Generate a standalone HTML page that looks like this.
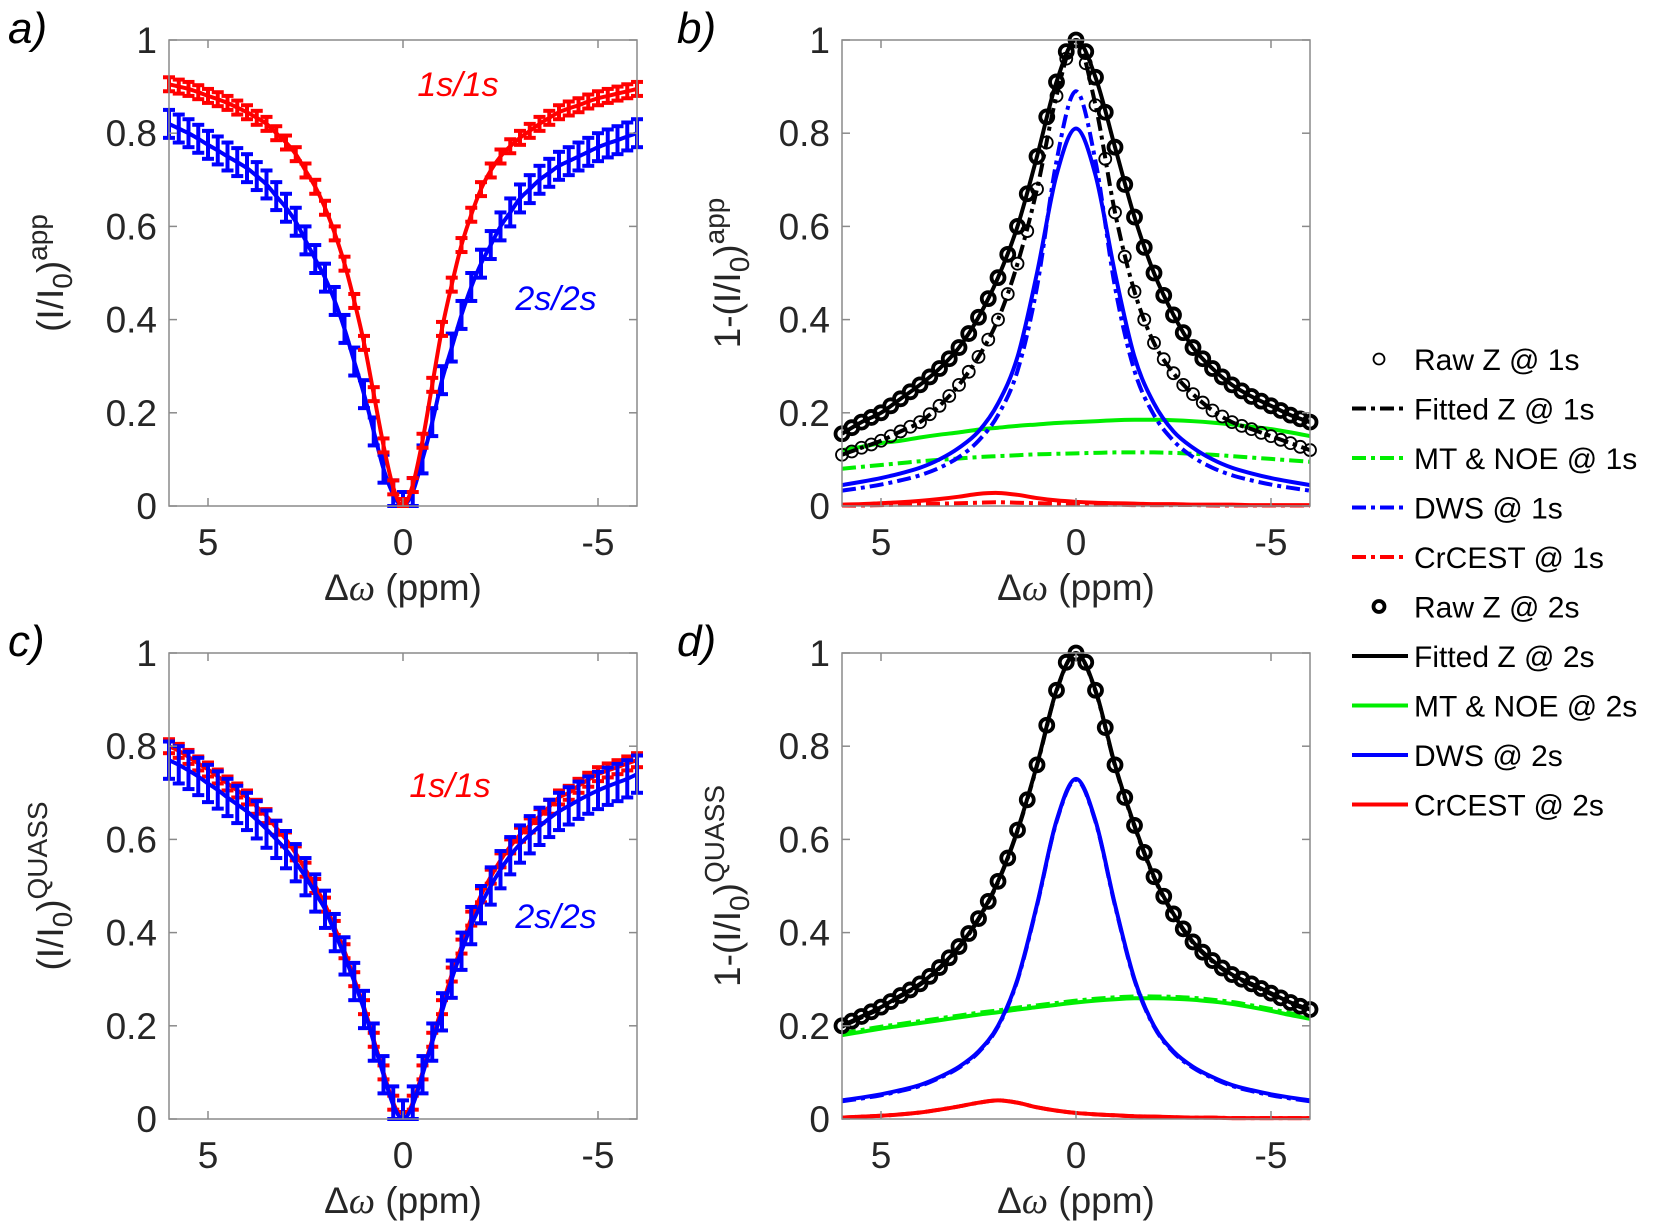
<!DOCTYPE html>
<html><head><meta charset="utf-8">
<style>
html,body{margin:0;padding:0;background:#fff;}
svg{display:block;font-family:"Liberation Sans",Arial,sans-serif;}
</style></head>
<body>
<svg id="fig" width="1654" height="1223" viewBox="0 0 1654 1223" xmlns="http://www.w3.org/2000/svg"></svg>
<script>
// ---------- data ----------
const offsetsFine = [6,5.75,5.5,5.25,5,4.75,4.5,4.25,4,3.75,3.5,3.25,3,2.75,2.5,2.25,2,1.75,1.5,1.25,1,0.75,0.5,0.25,0,-0.25,-0.5,-0.75,-1,-1.25,-1.5,-1.75,-2,-2.25,-2.5,-2.75,-3,-3.25,-3.5,-3.75,-4,-4.25,-4.5,-4.75,-5,-5.25,-5.5,-5.75,-6];
const offsets = [6,5.5,5,4.5,4,3.5,3,2.5,2,1.5,1,0.5,0,-0.5,-1,-1.5,-2,-2.5,-3,-3.5,-4,-4.5,-5,-5.5,-6];
const xTicks = [5,0,-5];
const xTickLabels = ["5","0","-5"];
const yTicks = [0,0.2,0.4,0.6,0.8,1];
const yTickLabels = ["0","0.2","0.4","0.6","0.8","1"];

// panel a
const aRed = [0.905,0.90,0.895,0.888,0.88,0.873,0.865,0.855,0.845,0.833,0.82,0.80,0.78,0.755,0.72,0.685,0.64,0.585,0.52,0.44,0.35,0.24,0.13,0.04,0.0,0.045,0.14,0.26,0.38,0.475,0.56,0.625,0.68,0.72,0.75,0.772,0.79,0.805,0.82,0.833,0.845,0.853,0.86,0.868,0.875,0.88,0.885,0.89,0.895];
const aRedErr = 0.015;
const aBlue = [0.82,0.81,0.80,0.788,0.775,0.763,0.75,0.738,0.725,0.708,0.69,0.665,0.64,0.61,0.57,0.53,0.49,0.44,0.38,0.31,0.24,0.16,0.08,0.025,0.0,0.03,0.10,0.18,0.27,0.34,0.41,0.47,0.52,0.56,0.60,0.63,0.66,0.68,0.70,0.715,0.73,0.74,0.75,0.76,0.77,0.778,0.785,0.793,0.80];
const aBlueErr = 0.03;
// panel c
const cRed = [0.80,0.79,0.777,0.763,0.75,0.735,0.72,0.705,0.69,0.67,0.65,0.625,0.60,0.57,0.535,0.50,0.46,0.41,0.36,0.30,0.24,0.17,0.10,0.035,0.0,0.035,0.10,0.17,0.24,0.31,0.37,0.43,0.48,0.52,0.555,0.585,0.61,0.63,0.65,0.67,0.69,0.70,0.715,0.728,0.74,0.748,0.755,0.763,0.77];
const cRedErr = 0.015;
const cBlue = [0.77,0.76,0.748,0.735,0.72,0.706,0.69,0.675,0.66,0.642,0.622,0.60,0.578,0.55,0.52,0.485,0.45,0.40,0.35,0.295,0.235,0.165,0.095,0.03,0.0,0.03,0.095,0.165,0.23,0.30,0.36,0.415,0.46,0.50,0.535,0.565,0.59,0.61,0.628,0.645,0.66,0.672,0.684,0.695,0.705,0.714,0.722,0.73,0.74];
const cBlueErr = 0.04;

// panel b
const bRaw1 = [0.11,0.117,0.125,0.132,0.14,0.15,0.16,0.17,0.18,0.197,0.215,0.236,0.26,0.288,0.32,0.357,0.40,0.455,0.52,0.59,0.68,0.78,0.88,0.96,1.0,0.95,0.86,0.745,0.63,0.535,0.46,0.40,0.35,0.315,0.285,0.26,0.24,0.222,0.205,0.192,0.18,0.172,0.165,0.157,0.15,0.142,0.135,0.127,0.12];
const bFit1 = [0.11,0.125,0.14,0.16,0.18,0.215,0.26,0.32,0.40,0.52,0.68,0.88,1.0,0.86,0.63,0.46,0.35,0.285,0.24,0.205,0.18,0.165,0.15,0.135,0.12];
const bRaw2 = [0.155,0.168,0.18,0.19,0.20,0.215,0.23,0.245,0.26,0.277,0.295,0.316,0.34,0.37,0.405,0.445,0.49,0.54,0.60,0.67,0.75,0.835,0.91,0.975,1.0,0.975,0.92,0.845,0.77,0.69,0.62,0.555,0.50,0.452,0.41,0.372,0.34,0.316,0.295,0.277,0.26,0.247,0.235,0.225,0.215,0.205,0.195,0.187,0.18];
const bFit2 = [0.155,0.18,0.20,0.23,0.26,0.295,0.34,0.405,0.49,0.60,0.75,0.91,1.0,0.92,0.77,0.62,0.50,0.41,0.34,0.295,0.26,0.235,0.215,0.195,0.18];
const bMT2 = [0.12,0.127,0.135,0.14,0.147,0.153,0.158,0.164,0.168,0.172,0.175,0.178,0.18,0.182,0.184,0.185,0.185,0.184,0.182,0.179,0.175,0.17,0.165,0.158,0.15];
const bMT1 = [0.08,0.084,0.088,0.092,0.096,0.099,0.102,0.105,0.107,0.109,0.111,0.112,0.113,0.114,0.115,0.115,0.115,0.114,0.112,0.11,0.107,0.104,0.101,0.098,0.095];
const bDWS2 = [0.045,0.052,0.06,0.07,0.082,0.10,0.125,0.16,0.22,0.32,0.50,0.71,0.81,0.71,0.50,0.32,0.22,0.16,0.125,0.10,0.082,0.07,0.06,0.052,0.045];
const bDWS1 = [0.033,0.039,0.046,0.055,0.066,0.082,0.105,0.14,0.195,0.29,0.47,0.74,0.89,0.74,0.47,0.29,0.195,0.14,0.105,0.082,0.066,0.055,0.046,0.039,0.033];
const bCr2 = [0.003,0.004,0.006,0.008,0.011,0.015,0.02,0.026,0.028,0.024,0.017,0.012,0.009,0.007,0.006,0.005,0.004,0.004,0.003,0.003,0.003,0.002,0.002,0.002,0.002];
const bCr1 = [0.001,0.001,0.002,0.003,0.004,0.005,0.006,0.007,0.008,0.007,0.006,0.005,0.004,0.003,0.003,0.002,0.002,0.002,0.002,0.001,0.001,0.001,0.001,0.001,0.001];

// panel d
const dRaw2 = [0.20,0.21,0.22,0.23,0.24,0.252,0.265,0.277,0.29,0.306,0.325,0.346,0.37,0.398,0.43,0.467,0.51,0.56,0.62,0.685,0.76,0.845,0.92,0.98,1.0,0.98,0.92,0.84,0.76,0.69,0.63,0.572,0.52,0.478,0.44,0.408,0.38,0.358,0.34,0.324,0.31,0.30,0.29,0.28,0.27,0.26,0.25,0.242,0.235];
const dFit2 = [0.20,0.22,0.24,0.265,0.29,0.325,0.37,0.43,0.51,0.62,0.76,0.92,1.0,0.92,0.76,0.63,0.52,0.44,0.38,0.34,0.31,0.29,0.27,0.25,0.235];
const dFit1 = [0.198,0.218,0.238,0.263,0.288,0.323,0.368,0.428,0.508,0.618,0.758,0.918,1.0,0.918,0.758,0.628,0.518,0.438,0.378,0.338,0.308,0.288,0.268,0.248,0.233];
const dMT2 = [0.18,0.187,0.194,0.2,0.206,0.212,0.218,0.224,0.229,0.235,0.24,0.245,0.25,0.254,0.257,0.259,0.259,0.258,0.256,0.252,0.247,0.24,0.232,0.223,0.215];
const dMT1 = [0.184,0.191,0.198,0.204,0.21,0.216,0.222,0.228,0.233,0.239,0.244,0.249,0.254,0.258,0.261,0.263,0.263,0.262,0.26,0.256,0.251,0.244,0.236,0.227,0.219];
const dDWS2 = [0.04,0.046,0.053,0.062,0.073,0.09,0.112,0.145,0.20,0.30,0.46,0.64,0.73,0.64,0.46,0.30,0.20,0.145,0.112,0.09,0.073,0.062,0.053,0.046,0.04];
const dDWS1 = [0.038,0.044,0.051,0.06,0.071,0.088,0.11,0.143,0.198,0.298,0.458,0.638,0.728,0.638,0.458,0.298,0.198,0.143,0.11,0.088,0.071,0.06,0.051,0.044,0.038];
const dCr2 = [0.003,0.005,0.007,0.01,0.014,0.02,0.027,0.035,0.04,0.035,0.025,0.018,0.013,0.01,0.008,0.006,0.005,0.004,0.003,0.003,0.002,0.002,0.002,0.002,0.002];
const dCr1 = [0.003,0.005,0.007,0.01,0.014,0.02,0.027,0.035,0.04,0.035,0.025,0.018,0.013,0.01,0.008,0.006,0.005,0.004,0.003,0.003,0.002,0.002,0.002,0.002,0.002];

// ---------- helpers ----------
const NS = "http://www.w3.org/2000/svg";
const svg = document.getElementById('fig');
function mk(tag, attrs, parent){
  const e = document.createElementNS(NS, tag);
  for (const k in attrs) e.setAttribute(k, attrs[k]);
  (parent||svg).appendChild(e);
  return e;
}
function makeAxes(x0, x1, y0, y1){
  return {
    x: v => x0 + (6 - v) / 12 * (x1 - x0),
    y: v => y1 - v * (y1 - y0),
    x0, x1, y0, y1
  };
}
function smoothPath(xs, ys){
  let d = `M${xs[0].toFixed(2)},${ys[0].toFixed(2)}`;
  for (let i = 0; i < xs.length - 1; i++){
    const p0x = xs[Math.max(i-1,0)], p0y = ys[Math.max(i-1,0)];
    const p3x = xs[Math.min(i+2,xs.length-1)], p3y = ys[Math.min(i+2,xs.length-1)];
    const c1x = xs[i] + (xs[i+1]-p0x)/6, c1y = ys[i] + (ys[i+1]-p0y)/6;
    const c2x = xs[i+1] - (p3x-xs[i])/6, c2y = ys[i+1] - (p3y-ys[i])/6;
    d += ` C${c1x.toFixed(2)},${c1y.toFixed(2)} ${c2x.toFixed(2)},${c2y.toFixed(2)} ${xs[i+1].toFixed(2)},${ys[i+1].toFixed(2)}`;
  }
  return d;
}
function drawFrame(ax, g, yLabelMain, ySup, yLabelPrefix, name){
  const {x0,x1,y0,y1} = ax;
  const fr = mk('rect',{x:x0,y:y0,width:x1-x0,height:y1-y0,fill:'none',stroke:'#8a8a8a','stroke-width':1.5},g);
  
  
  xTicks.forEach((t,i)=>{
    const X = ax.x(t);
    mk('line',{x1:X,y1:y1,x2:X,y2:y1-8,stroke:'#8a8a8a','stroke-width':1.5},g);
    mk('line',{x1:X,y1:y0,x2:X,y2:y0+8,stroke:'#8a8a8a','stroke-width':1.5},g);
    const tl = mk('text',{x:X,y:y1+49,'font-size':37,'text-anchor':'middle',fill:'#262626'},g);
    tl.textContent = xTickLabels[i];
    
    
  });
  yTicks.forEach((t,i)=>{
    const Y = ax.y(t);
    mk('line',{x1:x0,y1:Y,x2:x0+8,y2:Y,stroke:'#8a8a8a','stroke-width':1.5},g);
    mk('line',{x1:x1,y1:Y,x2:x1-8,y2:Y,stroke:'#8a8a8a','stroke-width':1.5},g);
    const tl = mk('text',{x:x0-12,y:Y+13,'font-size':37,'text-anchor':'end',fill:'#262626'},g);
    tl.textContent = yTickLabels[i];
    
    
  });
  const xl = mk('text',{x:(x0+x1)/2,y:y1+94,'font-size':37,'text-anchor':'middle',fill:'#262626'},g);
  xl.innerHTML = 'Δ<tspan font-family="Liberation Serif" font-style="italic">ω</tspan> (ppm)';
  
  
  const cx = x0 - (yLabelPrefix ? 102 : 106);
  const cy = (y0+y1)/2;
  const yl = mk('text',{x:0,y:0,'font-size':37,'text-anchor':'middle',fill:'#262626',transform:`translate(${cx},${cy}) rotate(-90)`},g);
  yl.innerHTML = `${yLabelPrefix}(I/I<tspan font-size="28" dy="9">0</tspan><tspan dy="-9">)</tspan><tspan font-size="28" dy="-16">${ySup}</tspan>`;
  
  
}
function drawLine(ax, g, vals, color, dash, width, name){
  const xs = offsets.map(ax.x), ys = vals.map(ax.y);
  const p = mk('path',{d:smoothPath(xs,ys),fill:'none',stroke:color,'stroke-width':width,'stroke-dasharray':dash||'none','stroke-linejoin':'round'},g);
  
  
}
function drawMarkers(ax, g, vals, r, sw, name){
  const gg = mk('g',{},g);
  
  
  vals.forEach((v,i)=>{
    mk('circle',{cx:ax.x(offsetsFine[i]),cy:ax.y(v),r:r,fill:'none',stroke:'#000','stroke-width':sw},gg);
  });
}
function drawErrSeries(ax, g, vals, err, color, name){
  const gg = mk('g',{},g);
  
  
  vals.forEach((v,i)=>{
    const X = ax.x(offsetsFine[i]);
    const yt = ax.y(v+err), yb = ax.y(Math.max(v-err,0));
    mk('line',{x1:X,y1:yt,x2:X,y2:yb,stroke:color,'stroke-width':4},gg);
    mk('line',{x1:X-6,y1:yt,x2:X+6,y2:yt,stroke:color,'stroke-width':4},gg);
    mk('line',{x1:X-6,y1:yb,x2:X+6,y2:yb,stroke:color,'stroke-width':4},gg);
  });
  const xs = offsetsFine.map(ax.x), ys = vals.map(ax.y);
  mk('path',{d:smoothPath(xs,ys),fill:'none',stroke:color,'stroke-width':4},gg);
}
function panelLetter(x,y,t,name){
  const e = mk('text',{x:x,y:y,'font-size':44,'font-style':'italic',fill:'#000'});
  e.textContent = t;
  
  
}
function note(x,y,t,color,name){
  const e = mk('text',{x:x,y:y,'font-size':34,'font-style':'italic','text-anchor':'middle',fill:color});
  e.textContent = t;
  
  
}

const RED='#ff0000', BLUE='#0000ff', GREEN='#00ee00';
const DASHDOT='14,5,4,5';
const LW = 4;

// ---------- panel a ----------
const axA = makeAxes(169,637,40,506);
const gA = mk('g',{});  
drawErrSeries(axA,gA,aBlue,aBlueErr,BLUE,'a-2s-series');
drawErrSeries(axA,gA,aRed,aRedErr,RED,'a-1s-series');
drawFrame(axA,gA,'','app','','panel-a');
panelLetter(8,43,'a)','panel-a-letter');
note(458,96,'1s/1s',RED,'a-1s-label');
note(556,310,'2s/2s',BLUE,'a-2s-label');

// ---------- panel b ----------
const axB = makeAxes(842,1310,40,506);
const gB = mk('g',{});  
drawLine(axB,gB,bCr1,RED,DASHDOT,LW,'b-crcest-1s');
drawLine(axB,gB,bCr2,RED,null,LW,'b-crcest-2s');
drawLine(axB,gB,bMT1,GREEN,DASHDOT,LW,'b-mt-noe-1s');
drawLine(axB,gB,bMT2,GREEN,null,LW,'b-mt-noe-2s');
drawLine(axB,gB,bDWS1,BLUE,DASHDOT,LW,'b-dws-1s');
drawLine(axB,gB,bDWS2,BLUE,null,LW,'b-dws-2s');
drawLine(axB,gB,bFit1,'#000',DASHDOT,LW,'b-fitted-z-1s');
drawLine(axB,gB,bFit2,'#000',null,LW,'b-fitted-z-2s');
drawMarkers(axB,gB,bRaw1,6,1.8,'b-raw-z-1s');
drawMarkers(axB,gB,bRaw2,6.5,3.8,'b-raw-z-2s');
drawFrame(axB,gB,'','app','1-','panel-b');
panelLetter(677,43,'b)','panel-b-letter');

// ---------- panel c ----------
const axC = makeAxes(169,637,653,1119);
const gC = mk('g',{});  
drawErrSeries(axC,gC,cRed,cRedErr,RED,'c-1s-series');
drawErrSeries(axC,gC,cBlue,cBlueErr,BLUE,'c-2s-series');
drawFrame(axC,gC,'','QUASS','','panel-c');
panelLetter(8,656,'c)','panel-c-letter');
note(450,797,'1s/1s',RED,'c-1s-label');
note(556,928,'2s/2s',BLUE,'c-2s-label');

// ---------- panel d ----------
const axD = makeAxes(842,1310,653,1119);
const gD = mk('g',{});  
drawLine(axD,gD,dCr1,RED,DASHDOT,LW,'d-crcest-1s');
drawLine(axD,gD,dCr2,RED,null,LW,'d-crcest-2s');
drawLine(axD,gD,dMT1,GREEN,DASHDOT,LW,'d-mt-noe-1s');
drawLine(axD,gD,dMT2,GREEN,null,LW,'d-mt-noe-2s');
drawLine(axD,gD,dDWS1,BLUE,DASHDOT,LW,'d-dws-1s');
drawLine(axD,gD,dDWS2,BLUE,null,LW,'d-dws-2s');
drawLine(axD,gD,dFit1,'#000',DASHDOT,LW,'d-fitted-z-1s');
drawLine(axD,gD,dFit2,'#000',null,LW,'d-fitted-z-2s');
drawMarkers(axD,gD,dRaw2,6.5,3.8,'d-raw-z-2s');
drawFrame(axD,gD,'','QUASS','1-','panel-d');
panelLetter(677,656,'d)','panel-d-letter');

// ---------- legend ----------
const legendLabels = ['Raw Z @ 1s','Fitted Z @ 1s','MT & NOE @ 1s','DWS @ 1s','CrCEST @ 1s','Raw Z @ 2s','Fitted Z @ 2s','MT & NOE @ 2s','DWS @ 2s','CrCEST @ 2s'];
const legendColors = ['#000','#000',GREEN,BLUE,RED,'#000','#000',GREEN,BLUE,RED];
const legendKinds = ['m1','dd','dd','dd','dd','m2','s','s','s','s'];
const gL = mk('g',{});  
legendLabels.forEach((lab,i)=>{
  const y = 359 + i*49.5;
  const ge = mk('g',{},gL);
  
  
  const k = legendKinds[i];
  if (k==='m1') mk('circle',{cx:1379,cy:y,r:5.5,fill:'none',stroke:'#000','stroke-width':1.8},ge);
  else if (k==='m2') mk('circle',{cx:1379,cy:y,r:5.5,fill:'none',stroke:'#000','stroke-width':3.8},ge);
  else mk('line',{x1:1352,y1:y,x2:1408,y2:y,stroke:legendColors[i],'stroke-width':4,'stroke-dasharray':k==='dd'?DASHDOT:'none'},ge);
  const t = mk('text',{x:1414,y:y+11,'font-size':30,fill:'#000'},ge);
  t.textContent = lab;
});
</script>
</body></html>
